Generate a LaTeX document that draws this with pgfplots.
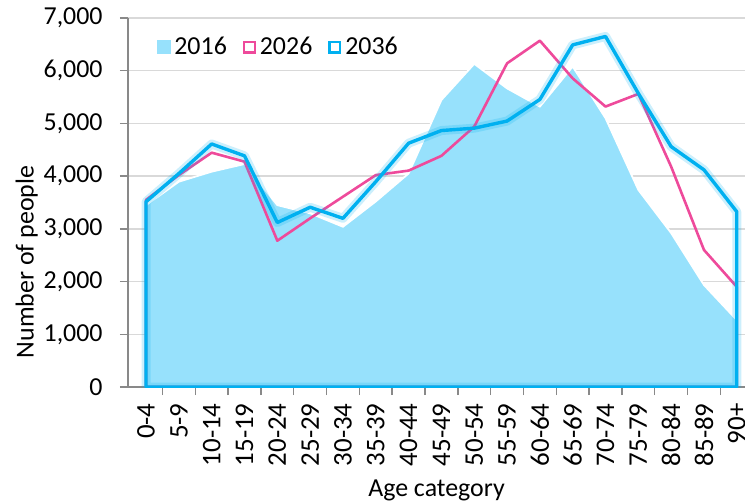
\documentclass[border=0pt]{standalone}
\usepackage{fontspec}
\setmainfont{Carlito}
\usepackage{pgfplots}
\pgfplotsset{compat=1.18}
\definecolor{c16}{HTML}{97E1FC}
\definecolor{c26}{HTML}{EE4A9B}
\definecolor{c36}{HTML}{00B0F0}
\definecolor{axgray}{HTML}{898989}
\definecolor{gridgray}{HTML}{D9D9D9}
\begin{document}
\begin{tikzpicture}
\begin{axis}[
  at={(0,0)}, anchor=south west,
  scale only axis, width=308.5bp, height=184.5bp,
  xmin=-0.55, xmax=18.25, ymin=0, ymax=7000,
  axis lines=left,
  axis line style={-, draw=axgray, line width=0.75bp},
  ytick={0,1000,...,7000},
  ymajorgrids, grid style={gridgray, line width=0.75bp},
  tick align=outside, major tick length=4bp, minor tick length=4bp,
  tick style={axgray, line width=0.75bp},
  xtick={0,...,18},
  xticklabels={0-4,5-9,10-14,15-19,20-24,25-29,30-34,35-39,40-44,45-49,50-54,55-59,60-64,65-69,70-74,75-79,80-84,85-89,90+},
  minor xtick={0.5,1.5,...,17.5},
  xtick style={draw=none},
  minor x tick style={draw=axgray, line width=0.75bp},
  /pgf/number format/assume math mode=true,
  /pgf/number format/1000 sep={,},
  scaled y ticks=false,
  ticklabel style={font=\fontsize{13}{15}\selectfont},
  xticklabel style={rotate=90, anchor=east, inner sep=0pt, font=\fontsize{13.5}{15}\selectfont},
  xticklabel shift=4bp,
  yticklabel style={anchor=east, inner sep=0pt},
  yticklabel shift=8.5bp,
  xlabel={Age category},
  ylabel={Number of people},
  xlabel style={font=\fontsize{13}{15}\selectfont, at={(axis description cs:0.5,0)}, anchor=center, yshift=-51.5bp},
  ylabel style={font=\fontsize{13}{15}\selectfont, at={(axis description cs:-0.164,0.339)}, anchor=center},
  legend style={at={(axis description cs:0.036,0.921)}, anchor=west, draw=none, fill=none,
    font=\fontsize{13}{15}\selectfont, legend columns=-1,
    /tikz/every even column/.append style={column sep=6bp}},
  legend cell align=left,
]
\addlegendimage{legend image code/.code={\fill[c16] (0bp,-3.25bp) rectangle (6.5bp,3.25bp);}}
\addlegendentry{2016}
\addlegendimage{legend image code/.code={\draw[c26, line width=1.1bp] (0.55bp,-2.7bp) rectangle (5.95bp,2.7bp);}}
\addlegendentry{2026}
\addlegendimage{legend image code/.code={\draw[c36, line width=1.3bp] (0.65bp,-2.6bp) rectangle (5.85bp,2.6bp);}}
\addlegendentry{2036}

\addplot[fill=c16, draw=white, line width=0.9bp, forget plot] coordinates {
(0,3450) (1,3895) (2,4085) (3,4230) (4,3450) (5,3295) (6,3040) (7,3520) (8,4050) (9,5445)
(10,6130) (11,5665) (12,5320) (13,6080) (14,5100) (15,3740) (16,2920) (17,1935) (18,1270)
} \closedcycle;

\addplot[draw=c26, line width=1.3bp, line join=round, forget plot] coordinates {
(0,3550) (1,4020) (2,4445) (3,4275) (4,2775) (5,3200) (6,3610) (7,4020) (8,4105) (9,4385)
(10,4940) (11,6140) (12,6570) (13,5855) (14,5320) (15,5560) (16,4180) (17,2600) (18,1900)
} \closedcycle;

\addplot[draw=c36, draw opacity=0.2, line width=4.5bp, line join=round, forget plot] coordinates {
(0,3515) (1,4050) (2,4610) (3,4385) (4,3120) (5,3410) (6,3200) (7,3895) (8,4625) (9,4865)
(10,4910) (11,5045) (12,5455) (13,6490) (14,6650) (15,5570) (16,4560) (17,4120) (18,3325)
} \closedcycle;
\addplot[draw=c36, line width=1.7bp, line join=round, forget plot] coordinates {
(0,3515) (1,4050) (2,4610) (3,4385) (4,3120) (5,3410) (6,3200) (7,3895) (8,4625) (9,4865)
(10,4910) (11,5045) (12,5455) (13,6490) (14,6650) (15,5570) (16,4560) (17,4120) (18,3325)
} \closedcycle;
\end{axis}
\pgfresetboundingbox
\path[use as bounding box] (-64bp,-58.5bp) rectangle (308.5bp,193.5bp);
\end{tikzpicture}
\end{document}
